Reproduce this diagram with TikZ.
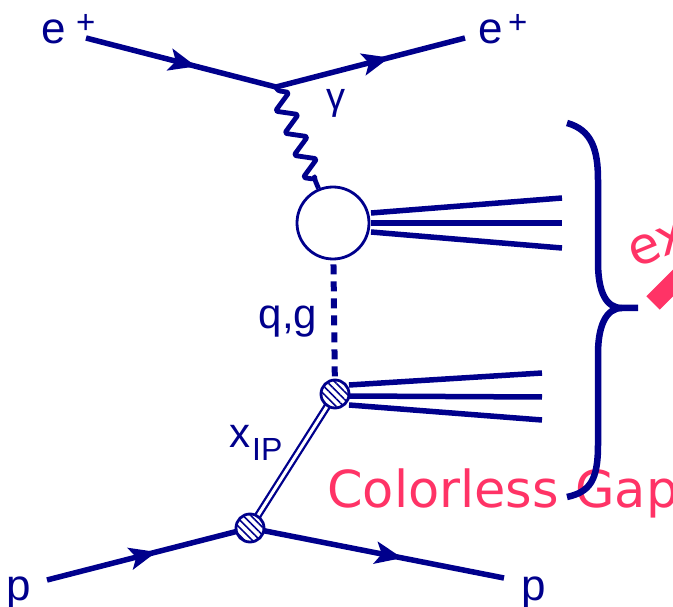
\documentclass[tikz,border=0pt]{standalone}
\usepackage{fontspec}
\setmainfont{Liberation Sans}
\newfontfamily\dejavu{DejaVu Sans}
\usetikzlibrary{arrows.meta,decorations.pathmorphing,decorations.markings,patterns.meta}
\definecolor{navy}{RGB}{0,0,140}
\definecolor{hotpink}{RGB}{255,51,102}
\begin{document}
\begin{tikzpicture}[x=1pt,y=-1pt,
  fermion/.style={navy,line width=5.5pt,postaction={decorate},
    decoration={markings,mark=at position #1 with {\arrow{Stealth[length=27pt,width=22pt,inset=6pt]}}}},
  hadron/.style={navy,line width=5.5pt},
  photon/.style={navy,line width=4.8pt,line join=round,rounded corners=2.5pt,decorate,decoration={zigzag,amplitude=10pt,segment length=24pt,pre length=4pt,post length=4pt}},
  blob/.style={circle,draw=navy,line width=2.8pt,minimum size=28pt,inner sep=0pt,
    preaction={fill=white},pattern={Lines[angle=-45,distance=5.5pt,line width=1.6pt]},pattern color=navy},
  lbl/.style={navy,inner sep=0pt,font=\fontsize{44}{44}\selectfont},
  pinktxt/.style={hotpink,inner sep=0pt,font=\dejavu\fontsize{51}{51}\selectfont}
]
\useasboundingbox (0,0) rectangle (673,607);
\clip (0,0) rectangle (673,607);

% coordinates
\coordinate (ein) at (86,38);
\coordinate (ev) at (276,87);
\coordinate (eout) at (465,38);
\coordinate (pin) at (47,580);
\coordinate (pv) at (250,528);
\coordinate (pout) at (504,578);
\coordinate (hv) at (333,223);
\coordinate (bv) at (335,394);

% upper hadronic blob
\node[circle,draw=navy,line width=2.8pt,minimum size=72pt,inner sep=0pt] (H) at (hv) {};

% lepton lines
\draw[fermion=0.58] (ein) -- (ev);
\draw[fermion=0.60] (ev) -- (eout);
\draw[photon] (ev) -- (H);

% proton lines
\draw[fermion=0.54] (pin) -- (pv);
\draw[fermion=0.60] (pv) -- (pout);

% upper jets
\coordinate (h1a) at (371,213); \coordinate (h1b) at (562,198);
\coordinate (h2a) at (371,223); \coordinate (h2b) at (562,223);
\coordinate (h3a) at (371,232); \coordinate (h3b) at (562,248);
\draw[hadron] (h1a) -- (h1b);
\draw[hadron] (h2a) -- (h2b);
\draw[hadron] (h3a) -- (h3b);

% lower jets
\coordinate (l1a) at (349,385); \coordinate (l1b) at (542,373);
\coordinate (l2a) at (349,396); \coordinate (l2b) at (542,397);
\coordinate (l3a) at (349,405); \coordinate (l3b) at (542,420);
\draw[hadron] (l1a) -- (l1b);
\draw[hadron] (l2a) -- (l2b);
\draw[hadron] (l3a) -- (l3b);

% pomeron double line
\draw[navy,line width=2.3pt,double=white,double distance=3pt] (bv) -- (pv);

% blobs
\node[blob] (B1) at (bv) {};
\node[blob] (B2) at (pv) {};

% exchanged parton
\draw[navy,line width=6pt,dash pattern=on 10pt off 7pt,shorten <=4pt] (H) -- (B1);

% labels
\node[lbl,anchor=base west] (le) at (41,44) {e\hspace{10.5pt}\raisebox{10pt}{\fontsize{33}{33}\selectfont +}};
\node[lbl,anchor=base west] (re) at (478,44) {e\hspace{5.5pt}\raisebox{10pt}{\fontsize{33}{33}\selectfont +}};
\node[lbl,font=\fontsize{38}{38}\selectfont] (gam) at (336,103) {γ};
\node[lbl,font=\fontsize{42}{42}\selectfont] (qg) at (288,322) {q,g};
\node[lbl,anchor=base west,font=\fontsize{42}{42}\selectfont] (xip) at (229,447) {x\hspace{2pt}\raisebox{-13pt}{\fontsize{32}{32}\selectfont IP}};
\node[lbl,anchor=base west] (lp) at (6,600) {p};
\node[lbl,anchor=base west] (rp) at (521,600) {p};

% pink annotations
\node[pinktxt,anchor=base west] (gap) at (327,507) {Colorless Gap};
\node[pinktxt,anchor=base west,rotate=22] (ex) at (635,269) {ex};
\coordinate (arrS) at (653,303);
\coordinate (arrE) at (700,256);
\draw[hotpink,line width=19pt] (arrS) -- (arrE);

% brace
\coordinate (brT) at (567,123);
\coordinate (brTip) at (638,308);
\coordinate (brB) at (567,497);
\draw[navy,line width=6.5pt,line join=round]
  (brT) .. controls (592,130) and (598,150) .. (598,180) -- (598,262)
  .. controls (598,292) and (606,308) .. (622,308) -- (brTip);
\draw[navy,line width=6.5pt,line join=round]
  (622,308) .. controls (606,308) and (598,326) .. (598,354) -- (598,445)
  .. controls (598,480) and (590,492) .. (brB);
\end{tikzpicture}
\end{document}
